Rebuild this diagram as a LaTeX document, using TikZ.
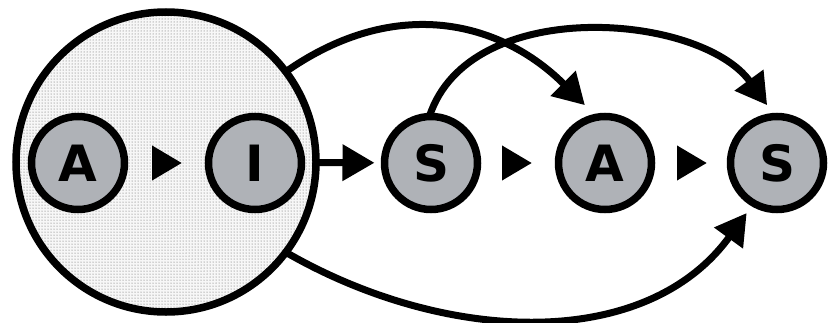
\documentclass[tikz,border=0pt]{standalone}
\usepackage{fontspec}
\setmainfont{DejaVu Sans}
\usetikzlibrary{arrows.meta,patterns}
\definecolor{nodegray}{RGB}{175,178,183}
\begin{document}
\begin{tikzpicture}[x=1pt,y=1pt,
  state/.style={circle,draw=black,line width=7.5pt,fill=nodegray,minimum size=93pt,inner sep=0pt,outer sep=0pt,font=\fontsize{50}{50}\selectfont\bfseries},
  group/.style={circle,draw=black,line width=7.5pt,minimum size=300pt,inner sep=0pt,outer sep=0pt,pattern=dots,pattern color=black!65,preaction={fill=black!3}},
  link/.style={line width=7pt,-{Triangle[length=31pt,width=34pt]}},
  gaparrow/.style={line width=7pt,-{Triangle[length=30pt,width=33pt]}}
]
\useasboundingbox (0,0) rectangle (829,322);
\node[group] (big) at (166,160) {};
\node[state] (A1) at (78,159) {A};
\node[state] (I) at (255,159) {I};
\node[state] (S1) at (431,159) {S};
\node[state] (A2) at (605,159) {A};
\node[state] (S2) at (777,159) {S};
\draw[gaparrow,shorten <=31pt,shorten >=26.5pt] (A1) -- (I);
\draw[gaparrow,shorten <=28pt,shorten >=26.5pt] (S1) -- (A2);
\draw[gaparrow,shorten <=29pt,shorten >=23.5pt] (A2) -- (S2);
\draw[link,-{Triangle[length=32pt,width=35pt]},shorten >=10pt] (big) -- (S1);
\draw[link,shorten >=17pt] (big.37) to[out=35,in=135,looseness=1.1] (A2.100);
\draw[link,shorten >=14pt] (S1.92) to[out=72,in=126,looseness=0.95] (S2.92);
\draw[link,shorten >=12pt] (big.-37) to[out=-30,in=234,looseness=1.0] (S2.240);
\end{tikzpicture}
\end{document}
